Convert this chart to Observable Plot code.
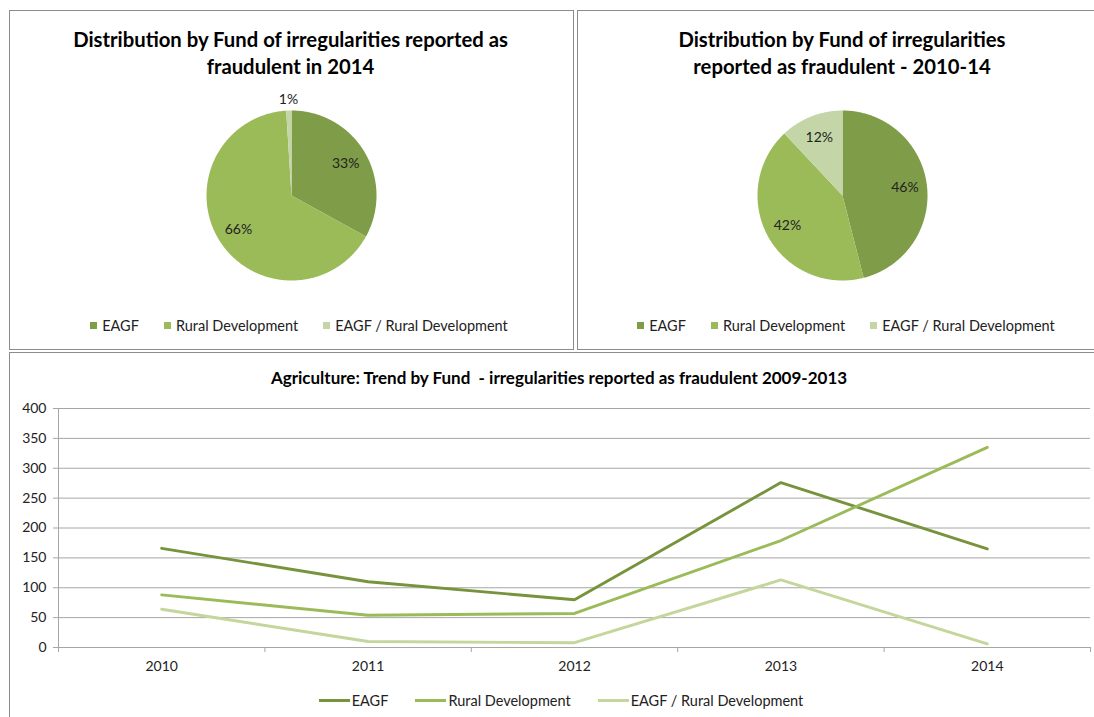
<!DOCTYPE html>
<html><head><meta charset="utf-8">
<script src="https://cdn.jsdelivr.net/npm/d3@7"></script>
<script src="https://cdn.jsdelivr.net/npm/@observablehq/plot@0.6"></script>
<style>
body{margin:0;background:#fff;font-family:Lato,"Open Sans",sans-serif;width:1094px;height:717px;overflow:hidden;position:relative}
.box{position:absolute;border:1px solid #8c8c8c;box-sizing:border-box}
.abs{position:absolute}
.abs svg{max-width:none !important}
.title{position:absolute;font-weight:bold;text-align:center;color:#000;white-space:nowrap}
.legend{position:absolute;display:flex;justify-content:center;align-items:center;font-size:14.5px;color:#222;white-space:nowrap;height:18px}
.item{display:flex;align-items:center;margin:0 13px}
.sw{display:inline-block;width:7px;height:7px;margin-right:5px}
.ln{display:inline-block;width:31px;height:3px;margin-right:2px}
</style></head><body>
<div class="box" style="left:9px;top:10px;width:565px;height:340px"></div>
<div class="box" style="left:577px;top:10px;width:520px;height:340px"></div>
<div class="box" style="left:9px;top:352px;width:1090px;height:400px"></div>
<div class="title" id="t1" style="left:9px;width:563px;top:26px;font-size:20.3px;line-height:27px"></div>
<div class="title" id="t2" style="left:677px;width:330px;top:26px;font-size:20.3px;line-height:27px"></div>
<div class="title" id="t3" style="left:9px;width:1100px;top:368px;font-size:17px;line-height:20px"></div>
<div class="abs" id="pie1" style="left:10px;top:90px;width:562px;height:210px"></div>
<div class="abs" id="pie2" style="left:561px;top:90px;width:562px;height:210px"></div>
<div class="abs" id="lines" style="left:10px;top:395px;width:1084px;height:290px"></div>
<div class="legend" id="leg1" style="left:10px;width:578px;top:316px"></div>
<div class="legend" id="leg2" style="left:577px;width:538px;top:316px"></div>
<div class="legend" id="leg3" style="left:10px;width:1102px;top:691px"></div>
<script>
// ---- data ----
const funds = ["EAGF", "Rural Development", "EAGF / Rural Development"];
const share2014 = [33, 66, 1];
const share2010_14 = [46, 42, 12];
const years = [2010, 2011, 2012, 2013, 2014];
const eagf = [166, 110, 80, 276, 165];
const ruralDev = [88, 54, 57, 179, 335];
const eagfRural = [64, 10, 8, 113, 6];
const yTicks = [0, 50, 100, 150, 200, 250, 300, 350, 400];
const titles = [
  "Distribution by Fund of irregularities reported as<br>fraudulent in 2014",
  "Distribution by Fund of irregularities<br>reported as fraudulent - 2010-14",
  "Agriculture: Trend by Fund&nbsp; - irregularities reported as fraudulent 2009-2013"
];
// ---- styles ----
const pieColors = ["#7f9c48", "#9bbb59", "#c4d6a8"];
const lineColors = ["#77933c", "#9bbb59", "#c3d69b"];

document.getElementById("t1").innerHTML = titles[0];
document.getElementById("t2").innerHTML = titles[1];
document.getElementById("t3").innerHTML = titles[2];

function pieChart(shares) {
  const arcs = d3.pie().sort(null).value(d => d)(shares);
  const polys = [];
  const labels = [];
  arcs.forEach((a, i) => {
    const n = Math.max(3, Math.ceil((a.endAngle - a.startAngle) / 0.01));
    const pts = [{x: 0, y: 0}];
    for (let k = 0; k <= n; k++) {
      const t = a.startAngle + (a.endAngle - a.startAngle) * k / n;
      pts.push({x: Math.sin(t), y: Math.cos(t)});
    }
    polys.push(pts);
    const m = (a.startAngle + a.endAngle) / 2;
    const r = shares[i] < 5 ? 1.13 : 0.74;
    labels.push({x: r * Math.sin(m), y: r * Math.cos(m), text: shares[i] + "%"});
  });
  return Plot.plot({
    width: 562, height: 210,
    marginLeft: 196, marginRight: 196, marginTop: 20, marginBottom: 20,
    x: {domain: [-1, 1], axis: null},
    y: {domain: [-1, 1], axis: null},
    style: {fontFamily: "Lato, sans-serif", overflow: "visible"},
    marks: [
      ...polys.map((p, i) => Plot.line(p, {x: "x", y: "y", fill: pieColors[i], stroke: "none"})),
      Plot.text(labels, {x: "x", y: "y", text: "text", fontSize: 14, fill: "#222"})
    ]
  });
}
document.getElementById("pie1").appendChild(pieChart(share2014));
document.getElementById("pie2").appendChild(pieChart(share2010_14));

const series = [eagf, ruralDev, eagfRural];
const lineData = [];
series.forEach((vals, s) => years.forEach((yr, i) => lineData.push({year: yr, value: vals[i], fund: funds[s]})));
const edges = years.map(y => y - 0.5).concat([years[years.length - 1] + 0.5]);

const lp = Plot.plot({
  width: 1084, height: 290,
  marginLeft: 48, marginRight: 4, marginTop: 13, marginBottom: 38,
  x: {domain: [edges[0], edges[edges.length - 1]]},
  y: {domain: [0, 400]},
  color: {domain: funds, range: lineColors},
  style: {fontFamily: "Lato, sans-serif", fontSize: "14px", color: "#222", overflow: "visible"},
  marks: [
    Plot.gridY(yTicks.filter(d => d > 0), {stroke: "#a6a6a6", strokeOpacity: 1}),
    Plot.ruleY([0], {stroke: "#a6a6a6"}),
    Plot.ruleX([edges[0]], {stroke: "#a6a6a6"}),
    Plot.axisY(yTicks, {tickSize: 5, tickPadding: 7, stroke: "#a6a6a6", fill: "#222", label: null}),
    Plot.axisX(edges, {tickSize: 5, tickFormat: () => "", stroke: "#a6a6a6", label: null}),
    Plot.axisX(years, {tickSize: 0, tickPadding: 14, tickFormat: "d", fill: "#222", label: null}),
    Plot.line(lineData, {x: "year", y: "value", z: "fund", stroke: "fund", strokeWidth: 2.9})
  ]
});
document.getElementById("lines").appendChild(lp);

function legend(id, colors, kind, gap) {
  const el = document.getElementById(id);
  funds.forEach((f, i) => {
    const it = document.createElement("div");
    it.className = "item";
    it.style.margin = "0 " + gap + "px";
    const sw = document.createElement("span");
    sw.className = kind;
    sw.style.background = colors[i];
    it.appendChild(sw);
    it.appendChild(document.createTextNode(f));
    el.appendChild(it);
  });
}
legend("leg1", pieColors, "sw", 12.5);
legend("leg2", pieColors, "sw", 12.5);
legend("leg3", lineColors, "ln", 13.5);
</script>
</body></html>
